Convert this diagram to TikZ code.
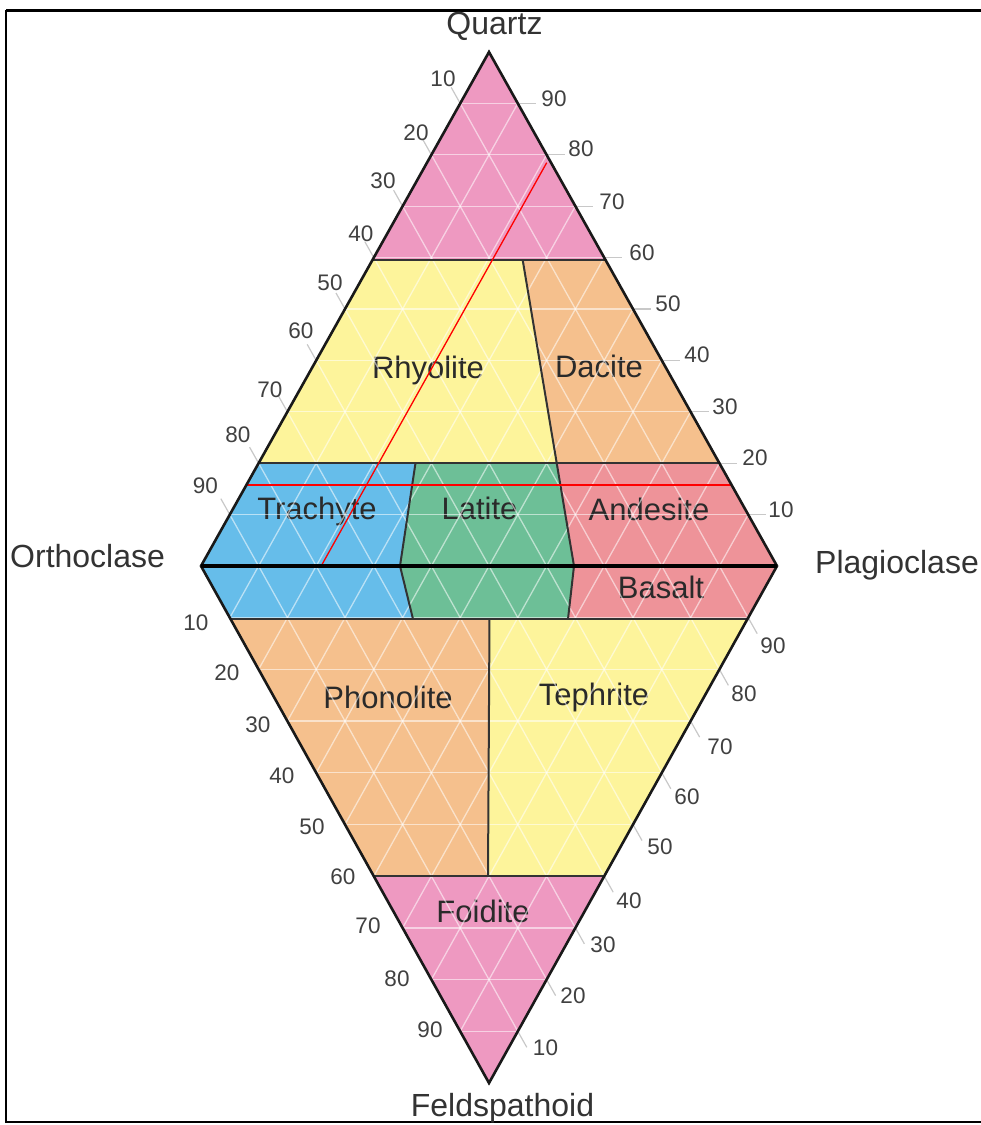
\documentclass[tikz,border=0pt]{standalone}
\usepackage{fontspec}
\setmainfont{Liberation Sans}
\usetikzlibrary{calc}
\definecolor{qpink}{HTML}{EE99C1}
\definecolor{ryel}{HTML}{FDF49B}
\definecolor{dorange}{HTML}{F5C08D}
\definecolor{tblue}{HTML}{66BDEA}
\definecolor{lgreen}{HTML}{6DBF97}
\definecolor{ared}{HTML}{EE9399}
\definecolor{txtc}{HTML}{2A2A2A}
\definecolor{tickc}{HTML}{C8C8C8}
\begin{document}
\begin{tikzpicture}[x=1pt,y=-1pt,
  field/.style={font=\fontsize{31}{31}\selectfont, text=txtc, anchor=base, inner sep=0pt},
  axislabel/.style={font=\fontsize{32}{32}\selectfont, text=black!80, inner sep=0pt},
  ticklabel/.style={font=\fontsize{22.5}{22.5}\selectfont, text=black!75, inner sep=0pt},
  gridline/.style={white, opacity=0.55, line width=1.3pt},
  tickmark/.style={tickc, line width=1.2pt},
  boundary/.style={draw=black!80, line width=2pt},
  edgeline/.style={draw=black!90, line width=2.6pt, line join=miter},
  redline/.style={red, line width=1.3pt}]
\useasboundingbox (0,0) rectangle (981,1125);
% frame
\draw[line width=3pt] (6,10) -- (983,10);
\draw[line width=2.5pt] (6,10) -- (6,1122) -- (983,1122);
% vertices
\coordinate (Q) at (489,52);
\coordinate (O) at (201,566);
\coordinate (P) at (777,566);
\coordinate (F) at (489,1083);
% field corner points
\coordinate (q60l) at (372.5,260);
\coordinate (q60m) at (522.7,260);
\coordinate (q60r) at (605.5,260);
\coordinate (q20l) at (258.7,463);
\coordinate (q20a) at (415.5,463);
\coordinate (q20b) at (556.7,463);
\coordinate (q20r) at (719.3,463);
\coordinate (ax35) at (400,566);
\coordinate (ax65) at (574,566);
\coordinate (f10l) at (230.5,619);
\coordinate (f10a) at (413,619);
\coordinate (f10m) at (489.5,619);
\coordinate (f10b) at (568,619);
\coordinate (f10r) at (746.5,619);
\coordinate (f60l) at (373.4,875.5);
\coordinate (f60m) at (488,875.5);
\coordinate (f60r) at (603.6,875.5);
% fills
\fill[qpink] (Q) -- (q60l) -- (q60r) -- cycle;
\fill[ryel] (q60l) -- (q60m) -- (q20b) -- (q20l) -- cycle;
\fill[dorange] (q60m) -- (q60r) -- (q20r) -- (q20b) -- cycle;
\fill[tblue] (q20l) -- (q20a) -- (ax35) -- (f10a) -- (f10l) -- (O) -- cycle;
\fill[lgreen] (q20a) -- (q20b) -- (ax65) -- (f10b) -- (f10a) -- (ax35) -- cycle;
\fill[ared] (q20b) -- (q20r) -- (P) -- (f10r) -- (f10b) -- (ax65) -- cycle;
\fill[dorange] (f10l) -- (f10m) -- (f60m) -- (f60l) -- cycle;
\fill[ryel] (f10m) -- (f10r) -- (f60r) -- (f60m) -- cycle;
\fill[qpink] (f60l) -- (f60r) -- (F) -- cycle;
% field labels
\node[field] (rhy) at (428,378) {Rhyolite};
\node[field] (dac) at (599,377) {Dacite};
\node[field] (tra) at (317,519) {Trachyte};
\node[field] (lat) at (479.5,519) {Latite};
\node[field] (and) at (649,520) {Andesite};
\node[field] (bas) at (661,598) {Basalt};
\node[field] (pho) at (388,708) {Phonolite};
\node[field] (tep) at (594,705) {Tephrite};
\node[field] (foi) at (483,922) {Foidite};
% grid
\foreach \k [evaluate=\k as \f using \k/10] in {1,...,9}{
  \draw[gridline] ($(O)!\f!(Q)$) -- ($(P)!\f!(Q)$);
  \draw[gridline] ($(O)!\f!(P)$) -- ($(O)!\f!(Q)$);
  \draw[gridline] ($(P)!\f!(O)$) -- ($(P)!\f!(Q)$);
  \draw[gridline] ($(O)!\f!(F)$) -- ($(P)!\f!(F)$);
  \draw[gridline] ($(O)!\f!(P)$) -- ($(O)!\f!(F)$);
  \draw[gridline] ($(P)!\f!(O)$) -- ($(P)!\f!(F)$);
  \draw[tickmark] ($(P)!\f!(Q)$) -- +(18,0);
  \draw[tickmark] ($(O)!\f!(Q)$) -- +(-9,-16);
  \draw[tickmark] ($(P)!\f!(F)$) -- +(9,16);
}
% field boundaries
\draw[boundary] (q60l) -- (q60r);
\draw[boundary] (q60m) -- (q20b);
\draw[boundary] (q20l) -- (q20r);
\draw[boundary] (q20a) -- (ax35) -- (f10a);
\draw[boundary] (q20b) -- (ax65) -- (f10b);
\draw[boundary] (f10l) -- (f10r);
\draw[boundary] (f10m) -- (f60m);
\draw[boundary] (f60l) -- (f60r);
% red lines
\coordinate (rh1) at (245.5,485);
\coordinate (rh2) at (731.5,485);
\coordinate (rd1) at (546.7,162.7);
\coordinate (rd2) at (322.3,564);
\draw[redline] (rh1) -- (rh2);
\draw[redline] (rd1) -- (rd2);
% outline and axis
\draw[edgeline] (Q) -- (P) -- (F) -- (O) -- cycle;
\draw[black, line width=3.4pt] (O) -- (P);
% tick labels
\foreach \v/\x/\y in {10/443/79, 20/416/133, 30/383/181, 40/361/234, 50/330/283, 60/301/331, 70/270/390, 80/238/435, 90/205.5/486}
  \node[ticklabel] (ul\v) at (\x,\y) {\v};
\foreach \v/\x/\y in {90/554/99, 80/581/149, 70/612/202, 60/642/253, 50/668/304, 40/697/355, 30/725/407, 20/755/458, 10/781/510}
  \node[ticklabel] (ur\v) at (\x,\y) {\v};
\foreach \v/\x/\y in {10/196/623, 20/227/673, 30/258/725, 40/282/776, 50/312/827, 60/343/877, 70/368/926, 80/397/979, 90/430/1030}
  \node[ticklabel] (ll\v) at (\x,\y) {\v};
\foreach \v/\x/\y in {90/773/646, 80/744/694, 70/720/747, 60/687/797, 50/660/847, 40/629/901, 30/603/945, 20/573/996, 10/545.5/1048}
  \node[ticklabel] (lr\v) at (\x,\y) {\v};
% axis labels
\node[axislabel, anchor=base] (lq) at (494.5,34.5) {Quartz};
\node[axislabel, anchor=base west] (lo) at (10,567) {Orthoclase};
\node[axislabel, anchor=base west] (lp) at (815,573) {Plagioclase};
\node[axislabel, anchor=base] (lf) at (502.5,1116.5) {Feldspathoid};
\end{tikzpicture}
\end{document}
